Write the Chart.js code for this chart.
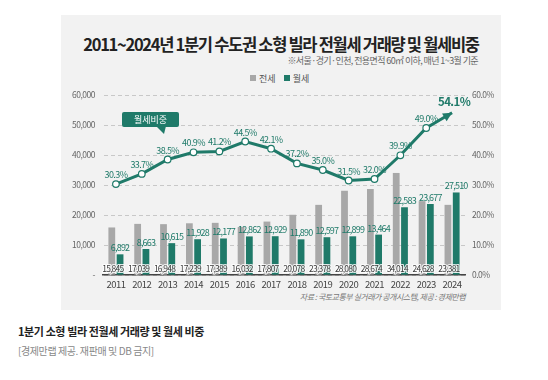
<!DOCTYPE html>
<html><head><meta charset="utf-8">
<script src="https://cdn.jsdelivr.net/npm/chart.js@4/dist/chart.umd.min.js"></script>
<style>
html,body{margin:0;padding:0;background:#fff;width:548px;height:380px;overflow:hidden;font-family:"Noto Sans CJK KR","Noto Sans",sans-serif;}
#panel{position:absolute;left:61px;top:15px;width:440px;height:295px;background:#f2f2f2;}
#wrap{position:absolute;left:0;top:0;width:548px;height:380px;}
.t{position:absolute;white-space:nowrap;}
#title{left:0;width:548px;text-align:center;top:32px;font-size:16.5px;font-weight:700;color:#222;letter-spacing:-1.3px;padding-left:14px;box-sizing:border-box;}
#sub{right:70px;top:54px;font-size:9px;color:#666;letter-spacing:-0.6px;}
#legend{left:250px;top:72px;font-size:9px;color:#555;}
#legend span.sq{display:inline-block;width:6px;height:6px;margin-right:3px;vertical-align:1px;}
#src{right:83px;top:291px;font-size:8px;color:#777;font-style:italic;letter-spacing:-0.5px;}
#cap{left:18px;top:323px;font-size:11px;font-weight:700;color:#222;letter-spacing:-0.4px;}
#cap2{left:18px;top:343px;font-size:10px;color:#888;letter-spacing:-0.4px;}
</style></head>
<body>
<div id="panel"></div>
<div class="t" id="title">2011~2024년 1분기 수도권 소형 빌라 전월세 거래량 및 월세비중</div>
<div class="t" id="sub">※서울·경기·인천, 전용면적 60㎡ 이하, 매년 1~3월 기준</div>
<div class="t" id="legend"><span class="sq" style="background:#a8a8a8"></span>전세&nbsp;&nbsp;&nbsp;&nbsp;<span class="sq" style="background:#1f7a69"></span>월세</div>
<div class="t" id="src">자료 : 국토교통부 실거래가 공개시스템, 제공 : 경제만랩</div>
<div class="t" id="cap">1분기 소형 빌라 전월세 거래량 및 월세 비중</div>
<div class="t" id="cap2">[경제만랩 제공. 재판매 및 DB 금지]</div>
<div id="wrap"><canvas id="c" width="548" height="380"></canvas></div>
<script>
const years = ['2011','2012','2013','2014','2015','2016','2017','2018','2019','2020','2021','2022','2023','2024'];
const jeonse = [15845,17039,16948,17239,17389,16032,17807,20078,23378,28080,28674,34014,24628,23381];
const wolse = [6892,8663,10615,11928,12177,12862,12929,11890,12597,12899,13464,22583,23677,27510];
const wolseShare = [30.3,33.7,38.5,40.9,41.2,44.5,42.1,37.2,35.0,31.5,32.0,39.9,49.0,54.1];
const leftTicks = [0,10000,20000,30000,40000,50000,60000];
const rightTicks = [0,10,20,30,40,50,60];

const TEAL = '#1f7a69';
const GRAY = '#a8a8a8';
const NUMFONT = '"Noto Sans CJK KR","Noto Sans",sans-serif';
const fmt = v => v.toLocaleString('en-US');

const spacingPlugin = {
  id: 'spacing',
  beforeDraw(chart) { chart.ctx.letterSpacing = '-0.5px'; }
};

const labelPlugin = {
  id: 'labels',
  afterDatasetsDraw(chart) {
    const ctx = chart.ctx;
    ctx.save();
    ctx.textAlign = 'center';
    ctx.letterSpacing = '-0.8px';
    ctx.lineJoin = 'round';
    // jeonse labels at bottom, with light halo
    const m0 = chart.getDatasetMeta(1);
    ctx.font = '8.5px ' + NUMFONT;
    ctx.textBaseline = 'alphabetic';
    m0.data.forEach((el, i) => {
      const t = fmt(jeonse[i]);
      ctx.strokeStyle = 'rgba(255,255,255,0.85)';
      ctx.lineWidth = 2.2;
      ctx.strokeText(t, el.x + 1, chart.chartArea.bottom - 3);
      ctx.fillStyle = '#3a3a3a';
      ctx.fillText(t, el.x + 1, chart.chartArea.bottom - 3);
    });
    // wolse labels above bars
    const m1 = chart.getDatasetMeta(2);
    ctx.font = '9px ' + NUMFONT;
    m1.data.forEach((el, i) => {
      ctx.fillStyle = TEAL;
      ctx.fillText(fmt(wolse[i]), el.x, el.y - 3);
    });
    // line labels
    const ml = chart.getDatasetMeta(0);
    ctx.letterSpacing = '-0.6px';
    ml.data.forEach((el, i) => {
      if (i === ml.data.length - 1) {
        ctx.font = 'bold 11.5px ' + NUMFONT;
        ctx.fillText(wolseShare[i].toFixed(1) + '%', el.x + 2, el.y - 7);
      } else {
        ctx.font = '9px ' + NUMFONT;
        ctx.fillText(wolseShare[i].toFixed(1) + '%', el.x, el.y - 6);
      }
    });
    // arrow head at end of line
    const n = ml.data.length;
    const p1 = ml.data[n - 2], p2 = ml.data[n - 1];
    const ang = Math.atan2(p2.y - p1.y, p2.x - p1.x);
    ctx.fillStyle = TEAL;
    ctx.beginPath();
    ctx.moveTo(p2.x, p2.y);
    ctx.lineTo(p2.x - 9 * Math.cos(ang) + 4.5 * Math.sin(ang), p2.y - 9 * Math.sin(ang) - 4.5 * Math.cos(ang));
    ctx.lineTo(p2.x - 9 * Math.cos(ang) - 4.5 * Math.sin(ang), p2.y - 9 * Math.sin(ang) + 4.5 * Math.cos(ang));
    ctx.closePath();
    ctx.fill();
    // callout "월세비중"
    const bx = 122, by = 112, bw = 57, bh = 15;
    ctx.fillStyle = TEAL;
    ctx.beginPath();
    ctx.roundRect(bx, by, bw, bh, 2);
    ctx.fill();
    ctx.beginPath();
    ctx.moveTo(156, by + bh - 1);
    ctx.lineTo(166, by + bh - 1);
    ctx.lineTo(164, by + bh + 7);
    ctx.closePath();
    ctx.fill();
    ctx.fillStyle = '#fff';
    ctx.letterSpacing = '0px';
    ctx.font = '9px ' + NUMFONT;
    ctx.textBaseline = 'middle';
    ctx.fillText('월세비중', bx + bw / 2, by + bh / 2 + 0.5);
    ctx.restore();
  }
};

new Chart(document.getElementById('c'), {
  data: {
    labels: years,
    datasets: [
      { type: 'line', label: '월세비중', data: wolseShare, yAxisID: 'y1', order: 0,
        borderColor: TEAL, borderWidth: 3, tension: 0,
        pointRadius: wolseShare.map((v, i) => i === wolseShare.length - 1 ? 0 : 3.3),
        pointBackgroundColor: '#fff', pointBorderColor: TEAL, pointBorderWidth: 1.2 },
      { type: 'bar', label: '전세', data: jeonse, yAxisID: 'y', order: 1,
        backgroundColor: GRAY, categoryPercentage: 0.64, barPercentage: 0.82 },
      { type: 'bar', label: '월세', data: wolse, yAxisID: 'y', order: 1,
        backgroundColor: TEAL, categoryPercentage: 0.64, barPercentage: 0.82 }
    ]
  },
  options: {
    responsive: false, animation: false,
    layout: { padding: { top: 95, bottom: 85, left: 0, right: 0 } },
    plugins: { legend: { display: false }, tooltip: { enabled: false } },
    scales: {
      x: {
        grid: { display: false, drawTicks: false },
        border: { display: true, color: '#444', width: 1.5 },
        ticks: { color: '#444', font: { size: 9.5, family: NUMFONT }, padding: 4, maxRotation: 0 },
        afterFit: s => { s.height = 20; }
      },
      y: {
        position: 'left', min: 0, max: 60000,
        afterBuildTicks: s => { s.ticks = leftTicks.map(v => ({ value: v })); },
        grid: { color: '#bdbdbd', drawTicks: false, lineWidth: 0.8 },
        border: { display: true, color: 'rgba(0,0,0,0)', dash: [4, 3] },
        ticks: { color: '#666', font: { size: 8.5, family: NUMFONT }, padding: 8,
          callback: v => v === 0 ? '-' : fmt(v) },
        afterFit: s => { s.width = 103; }
      },
      y1: {
        position: 'right', min: 0, max: 60,
        afterBuildTicks: s => { s.ticks = rightTicks.map(v => ({ value: v })); },
        grid: { display: false, drawTicks: false },
        border: { display: false },
        ticks: { color: '#666', font: { size: 8.5, family: NUMFONT }, padding: 7,
          callback: v => v.toFixed(1) + '%' },
        afterFit: s => { s.width = 83; }
      }
    }
  },
  plugins: [spacingPlugin, labelPlugin]
});
</script>
</body></html>
